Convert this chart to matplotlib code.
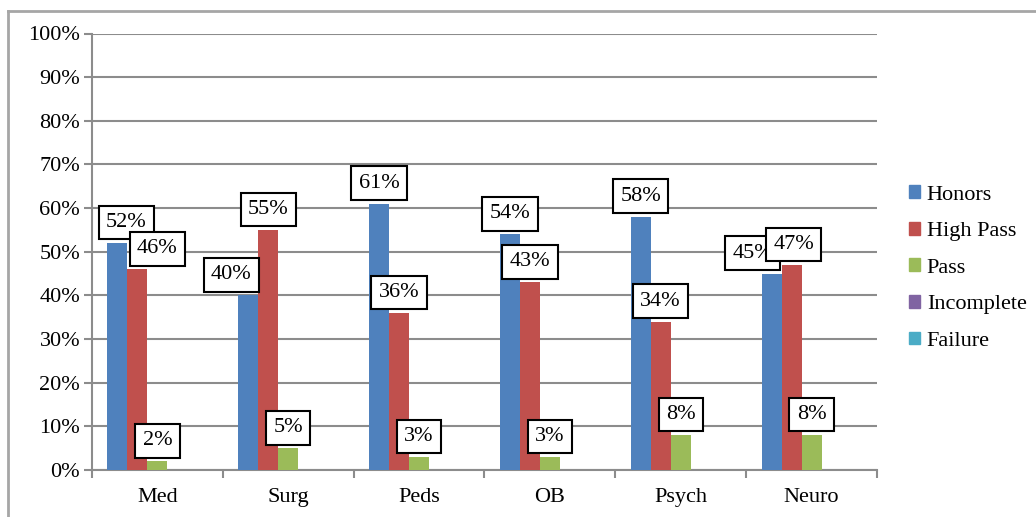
import matplotlib
matplotlib.use('Agg')
import matplotlib.pyplot as plt
import numpy as np
from matplotlib.lines import Line2D
from matplotlib.patches import Patch

plt.rcParams['font.family'] = ['Liberation Serif', 'DejaVu Serif']

# data
rotations = ['Med', 'Surg', 'Peds', 'OB', 'Psych', 'Neuro']
grades = ['Honors', 'High Pass', 'Pass', 'Incomplete', 'Failure']
honors = [52, 40, 61, 54, 58, 45]
high_pass = [46, 55, 36, 43, 34, 47]
passed = [2, 5, 3, 3, 8, 8]
incomplete = [0, 0, 0, 0, 0, 0]
failure = [0, 0, 0, 0, 0, 0]

colors = ['#4F81BD', '#C0504D', '#9BBB59', '#8064A2', '#4BACC6']
# manual horizontal nudges of some label boxes (pixels), per series
label_dx = [[9, -17, 0, 0, 0, -19],
            [20, 0, 0, 0, 0, 2],
            [0, 0, 0, 0, 0, 0]]

series = [honors, high_pass, passed, incomplete, failure]

fig = plt.figure(figsize=(10.36, 5.17), dpi=100)
ax = fig.add_axes([92/1036, 47/517, (877-92)/1036, (470-33.5)/517])

grid_c = '#8C8C8C'
x = np.arange(len(rotations))
w = 0.153
for i, vals in enumerate(series):
    v = np.array(vals) / 100.0
    ax.bar(x + (i - 2) * w, v, w, color=colors[i], label=grades[i], zorder=3)

px = 72 / 100.0
for i in range(3):
    for j, val in enumerate(series[i]):
        ax.annotate('%d%%' % val, xy=(x[j] + (i - 2) * w, val / 100.0),
                    xytext=(label_dx[i][j] * px, 11 * px), textcoords='offset points',
                    ha='center', va='bottom', fontsize=16, zorder=5,
                    bbox=dict(boxstyle='square,pad=0.33', fc='white', ec='black', lw=1.5))

ax.set_ylim(0, 1)
ax.set_xlim(-0.5, len(rotations) - 0.5)
ax.set_yticks(np.arange(0, 1.01, 0.1))
ax.set_yticklabels(['%d%%' % t for t in range(0, 101, 10)])
ax.yaxis.grid(True, color=grid_c, lw=1.5, zorder=0)
ax.set_xticks(x)
ax.set_xticklabels(rotations)
ax.set_xticks(np.arange(-0.5, len(rotations)), minor=True)
ax.tick_params(axis='x', which='major', length=0, pad=13, labelsize=16)
ax.tick_params(axis='x', which='minor', length=5.5, width=1.5, color=grid_c)
ax.tick_params(axis='y', length=5.5, width=1.5, color=grid_c, pad=3, labelsize=16)
for s in ['top', 'right']:
    ax.spines[s].set_visible(False)
for s in ['left', 'bottom']:
    ax.spines[s].set_color(grid_c)
    ax.spines[s].set_linewidth(1.5)
ax.set_axisbelow(True)

handles = [Patch(color=c) for c in colors]
fig.legend(handles, grades, loc='center left', bbox_to_anchor=(909/1036, 1 - 268/517),
           frameon=False, fontsize=16, handlelength=0.5, handleheight=0.5,
           handletextpad=0.3, labelspacing=0.78, borderaxespad=0, borderpad=0)

# outer chart border (cut off on right and bottom)
fig.add_artist(Line2D([8/1036, 8/1036], [0, 1 - 11/517], transform=fig.transFigure,
                      color='#A6A6A6', lw=2))
fig.add_artist(Line2D([8/1036, 1], [1 - 11/517, 1 - 11/517], transform=fig.transFigure,
                      color='#A6A6A6', lw=2))

fig.savefig('out.png', dpi=100)
